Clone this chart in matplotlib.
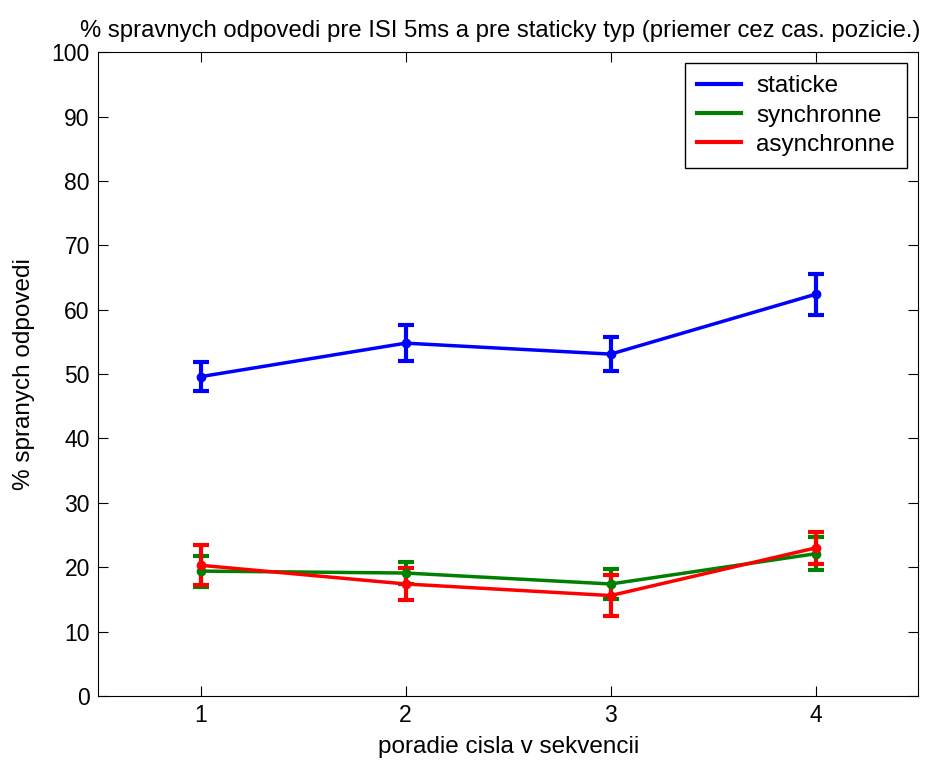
import matplotlib
matplotlib.use("Agg")
import matplotlib.pyplot as plt
from matplotlib.lines import Line2D

plt.rcParams['font.family'] = ['Liberation Sans', 'DejaVu Sans']

x = [1, 2, 3, 4]
staticke = [49.6, 54.8, 53.1, 62.4]
staticke_err = [2.3, 2.8, 2.6, 3.2]
synchronne = [19.4, 19.1, 17.4, 22.1]
synchronne_err = [2.4, 1.7, 2.3, 2.6]
asynchronne = [20.3, 17.4, 15.6, 23.0]
asynchronne_err = [3.1, 2.5, 3.2, 2.5]

fig = plt.figure(figsize=(9.35, 7.62), dpi=100)
ax = fig.add_axes([0.105, 0.0866, 0.877, 0.845])

series = [(staticke, staticke_err, 'blue', 'staticke'),
          (synchronne, synchronne_err, 'green', 'synchronne'),
          (asynchronne, asynchronne_err, 'red', 'asynchronne')]
for y, e, c, lab in series:
    ax.errorbar(x, y, yerr=e, color=c, lw=2.5, marker='o', ms=6, mec=c,
                capsize=6, capthick=3, elinewidth=3, label=lab)

ax.set_xlim(0.5, 4.5)
ax.set_ylim(0, 100)
ax.set_xticks(x)
ax.set_yticks(range(0, 101, 10))
ax.tick_params(direction='in', top=True, right=True, length=7, labelsize=16.5, pad=6)
ax.set_xlabel('poradie cisla v sekvencii', fontsize=17.5, labelpad=6)
ax.set_ylabel('% spranych odpovedi', fontsize=17.5, labelpad=12)
ax.set_title('% spravnych odpovedi pre ISI 5ms a pre staticky typ (priemer cez cas. pozicie.)',
             fontsize=17.2, pad=11, x=0.49)

labels = [s[3] for s in series]
hs = [Line2D([], [], color=c, lw=3) for _, _, c, _ in series]
leg = ax.legend(hs, labels, loc='upper right', fontsize=17.5, fancybox=False,
                edgecolor='black', framealpha=1, handlelength=1.8, borderpad=0.5,
                labelspacing=0.3, handletextpad=0.65, borderaxespad=0.45)
leg.get_frame().set_linewidth(1)

fig.savefig('out.png', dpi=100)
